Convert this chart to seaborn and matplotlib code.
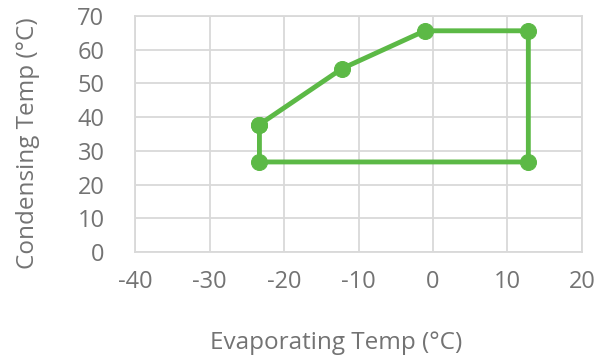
import numpy as np
import pandas as pd
import matplotlib
matplotlib.use("Agg")
import matplotlib.pyplot as plt
import seaborn as sns

# ==========================================================
# DATA (operating envelope, closed polygon)
# ==========================================================

evap_temp = [-23.3, -12.2, -1.1, 12.8, 12.8, -23.3, -23.3]
cond_temp = [37.8, 54.4, 65.6, 65.6, 26.7, 26.7, 37.8]

x_ticks = [-40, -30, -20, -10, 0, 10, 20]
y_ticks = [0, 10, 20, 30, 40, 50, 60, 70]

df = pd.DataFrame({"evap": evap_temp, "cond": cond_temp})

# ==========================================================
# STYLE
# ==========================================================

sns.set_theme(style="whitegrid")
plt.rcParams["font.family"] = ["Open Sans", "DejaVu Sans"]
plt.rcParams["axes.unicode_minus"] = False

GREEN = "#5cb946"
TEXT = "#737373"
GRID = "#d9d9d9"

# ==========================================================
# PLOT
# ==========================================================

fig = plt.figure(figsize=(5.98, 3.61), dpi=100)
ax = fig.add_axes([0.2258, 0.302, 0.7474, 0.6538])

sns.lineplot(
    data=df, x="evap", y="cond", sort=False, ax=ax,
    color=GREEN, linewidth=3.5, marker="o", markersize=11.5,
    markeredgecolor=GREEN, estimator=None
)

ax.set_xlim(-40, 20)
ax.set_ylim(0, 70)
ax.set_xticks(x_ticks)
ax.set_yticks(y_ticks)

ax.grid(True, color=GRID, linewidth=1.3)
for s in ax.spines.values():
    s.set_visible(True)
    s.set_color(GRID)
    s.set_linewidth(1.3)

ax.tick_params(axis="both", colors=TEXT, labelsize=17, length=0)
ax.tick_params(axis="x", pad=13)
ax.tick_params(axis="y", pad=22)

ax.set_xlabel("Evaporating Temp (°C)", color=TEXT, fontsize=17.5)
ax.set_ylabel("Condensing Temp (°C)", color=TEXT, fontsize=17.5)
ax.xaxis.set_label_coords(0.45, -0.335)
ax.yaxis.set_label_coords(-0.213, 0.462)

fig.savefig("out.png", dpi=100)
plt.close(fig)
